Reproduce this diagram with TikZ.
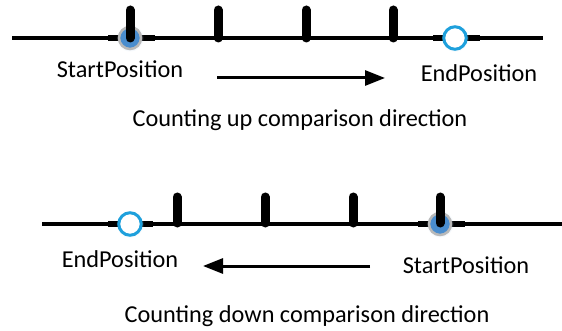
\documentclass[tikz,border=0pt]{standalone}
\usepackage{fontspec}
\setmainfont{Carlito}
\usetikzlibrary{positioning,arrows.meta,shadows}

\definecolor{startblue}{RGB}{74,141,206}
\definecolor{endcyan}{RGB}{30,160,220}
\definecolor{ringgray}{RGB}{185,185,185}

\begin{document}
\begin{tikzpicture}[x=1pt,y=-1pt,
  axis/.style={line width=3.5pt},
  collar/.style={line width=6pt},
  tickmark/.style={line width=9pt,line cap=round},
  startdot/.style={circle,minimum size=22pt,inner sep=0pt,fill=startblue,draw=ringgray,line width=2.5pt,
    circular glow={fill=startblue!30,opacity=0.25}},
  enddot/.style={circle,minimum size=22.5pt,inner sep=0pt,fill=white,draw=endcyan,line width=3pt,
    circular glow={fill=endcyan!25,opacity=0.2}},
  lbl/.style={font=\fontsize{24.3}{28}\selectfont,anchor=base,inner sep=0pt},
  dirarrow/.style={line width=3pt,-{Triangle[length=20pt,width=15pt]}}]
\useasboundingbox (0,0) rectangle (562,331);
% counting up
\coordinate (upL) at (12,38);
\coordinate (upR) at (543,38);
\draw[axis] (upL) -- (upR);
\draw[collar] (108,38) -- (155,38);
\draw[collar] (433,38) -- (480,38);
\node[startdot] (upStart) at (130,38) {};
\node[enddot] (upEnd) at (455,38) {};
\foreach \x in {130,218,306,393}
  \draw[tickmark] (\x,10) -- (\x,38);
\node[lbl] (upStartLbl) at (120,78) {StartPosition};
\node[lbl] (upEndLbl) at (479,82) {EndPosition};
\coordinate (upFrom) at (217,78);
\coordinate (upTo) at (385,78);
\draw[dirarrow] (upFrom) -- (upTo);
\node[lbl] (upCap) at (300,127) {Counting up comparison direction};
% counting down
\coordinate (dnL) at (42,224);
\coordinate (dnR) at (562,224);
\draw[axis] (dnL) -- (dnR);
\draw[collar] (108,224) -- (153,224);
\draw[collar] (418,224) -- (465,224);
\node[enddot] (dnEnd) at (130,224) {};
\node[startdot] (dnStart) at (440,224) {};
\foreach \x in {177,265,353,440}
  \draw[tickmark] (\x,197) -- (\x,223);
\node[lbl] (dnEndLbl) at (120,267) {EndPosition};
\node[lbl] (dnStartLbl) at (466,273) {StartPosition};
\coordinate (dnFrom) at (370,266);
\coordinate (dnTo) at (203,266);
\draw[dirarrow] (dnFrom) -- (dnTo);
\node[lbl] (dnCap) at (307,322) {Counting down comparison direction};
\end{tikzpicture}
\end{document}
